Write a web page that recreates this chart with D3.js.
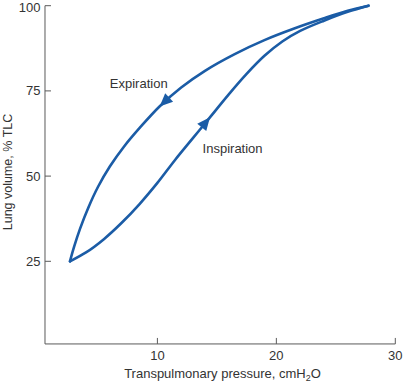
<!DOCTYPE html>
<html>
<head>
<meta charset="utf-8">
<script src="https://cdn.jsdelivr.net/npm/d3@7"></script>
<style>
  html, body { margin: 0; padding: 0; background: #ffffff; }
  svg { display: block; font-family: "Liberation Sans", Arial, Helvetica, sans-serif; }
</style>
</head>
<body>
<svg id="chart" width="403" height="383"></svg>
<script>
// ---- data ----
const xTicks = [10, 20, 30];
const yTicks = [25, 50, 75, 100];
// Expiration branch (upper), listed from 25 % up to TLC; drawn from TLC downwards
const expPressure = [2.65, 3.0, 3.5, 4.2, 5.0, 6.0, 7.2, 8.6, 10.2, 12.0, 14.0, 16.5, 19.0, 21.5, 24.0, 26.0, 27.75];
const expVolume   = [25, 29.3, 34.6, 40.8, 46.8, 52.8, 58.7, 64.5, 70.5, 76.0, 80.9, 85.8, 89.9, 93.3, 96.3, 98.5, 100];
// Inspiration branch (lower), travelled from 25 % up to TLC
const insPressure = [2.65, 4.0, 5.5, 7.0, 8.5, 10.0, 11.5, 13.0, 14.5, 16.0, 17.5, 19.0, 20.5, 22.0, 24.0, 26.0, 27.75];
const insVolume   = [25, 27.6, 31.5, 36.3, 41.8, 48.0, 54.8, 61.2, 67.6, 74.0, 80.0, 85.3, 89.5, 92.6, 95.6, 98.2, 100];
// arrow tips (pressure, volume) and labels
const arrowTips = [[10.17, 70.6], [14.43, 67.2]];
const labels = ["Expiration", "Inspiration"];
const labelPos = [[6.0, 75.8], [13.8, 56.7]];
const xTitle = "Transpulmonary pressure, cmH";
const yTitle = "Lung volume, % TLC";
const axisOrigin = [0.55, 0.75];

// ---- layout ----
const svg = d3.select("#chart");
const x = d3.scaleLinear().domain([0, 30]).range([38.45, 395.3]);
const y = d3.scaleLinear().domain([0, 100]).range([346.5, 5.7]);
const blue = "#1b5ca6";
const axisColor = "#5a5a5a";
const textColor = "#333333";

const ox = x(axisOrigin[0]), oy = y(axisOrigin[1]);

// axes lines
svg.append("line").attr("x1", ox).attr("x2", ox).attr("y1", oy).attr("y2", y(100))
  .attr("stroke", axisColor).attr("stroke-width", 1);
svg.append("line").attr("x1", ox).attr("x2", x(30)).attr("y1", oy).attr("y2", oy)
  .attr("stroke", axisColor).attr("stroke-width", 1);

// y ticks
const yt = svg.append("g");
yTicks.forEach(v => {
  yt.append("line").attr("x1", ox).attr("x2", ox + 6).attr("y1", y(v)).attr("y2", y(v))
    .attr("stroke", axisColor).attr("stroke-width", 1);
  yt.append("text").attr("x", ox - 4.5).attr("y", Math.max(y(v), 7)).attr("dy", "0.35em")
    .attr("text-anchor", "end").attr("font-size", 13).attr("fill", textColor).text(v);
});
// x ticks
const xt = svg.append("g");
xTicks.forEach(p => {
  xt.append("line").attr("x1", x(p)).attr("x2", x(p)).attr("y1", oy).attr("y2", oy - 6)
    .attr("stroke", axisColor).attr("stroke-width", 1);
  xt.append("text").attr("x", x(p)).attr("y", 360)
    .attr("text-anchor", "middle").attr("font-size", 13).attr("fill", textColor).text(p);
});

// axis titles
const xt2 = svg.append("text").attr("x", 222.5).attr("y", 378).attr("text-anchor", "middle")
  .attr("font-size", 13).attr("fill", textColor);
xt2.append("tspan").text(xTitle);
xt2.append("tspan").attr("font-size", 9).attr("dy", 3).text("2");
xt2.append("tspan").attr("dy", -3).text("O");

svg.append("text").attr("transform", "translate(12,172) rotate(-90)")
  .attr("text-anchor", "middle").attr("font-size", 12.5).attr("fill", textColor).text(yTitle);

// curves
const line = d3.line().x(d => x(d[0])).y(d => y(d[1])).curve(d3.curveCatmullRom.alpha(0.5));
const expData = expPressure.map((p, i) => [p, expVolume[i]]).reverse();
const insData = insPressure.map((p, i) => [p, insVolume[i]]);
const paths = [expData, insData].map(data =>
  svg.append("path").datum(data).attr("d", line).attr("fill", "none")
    .attr("stroke", blue).attr("stroke-width", 2.6).attr("stroke-linejoin", "round")
    .attr("stroke-linecap", "round").node());

// arrowheads along the curves
arrowTips.forEach((tip, i) => {
  const path = paths[i];
  const total = path.getTotalLength();
  const tx = x(tip[0]), ty = y(tip[1]);
  let best = 0, bestD = Infinity;
  for (let s = 0; s <= total; s += 0.5) {
    const pt = path.getPointAtLength(s);
    const d = (pt.x - tx) ** 2 + (pt.y - ty) ** 2;
    if (d < bestD) { bestD = d; best = s; }
  }
  const a = path.getPointAtLength(best);
  const b = path.getPointAtLength(Math.max(0, best - 13));
  const dx = a.x - b.x, dy = a.y - b.y, len = Math.hypot(dx, dy);
  const ux = dx / len, uy = dy / len;
  const hw = 5.8;
  const pts = [[a.x, a.y], [b.x - uy * hw, b.y + ux * hw], [b.x + uy * hw, b.y - ux * hw]];
  svg.append("path").attr("d", "M" + pts.map(p => p.join(",")).join("L") + "Z").attr("fill", blue);
});

// labels
labels.forEach((t, i) => {
  svg.append("text").attr("x", x(labelPos[i][0])).attr("y", y(labelPos[i][1]))
    .attr("font-size", 13).attr("fill", textColor).text(t);
});
</script>
</body>
</html>
